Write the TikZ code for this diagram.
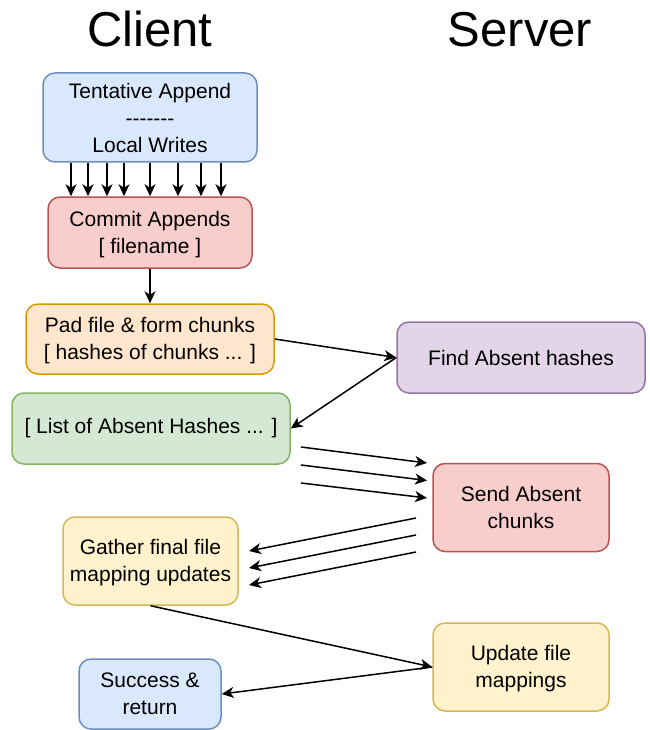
\documentclass[tikz,border=0pt]{standalone}
\usepackage{fontspec}
\setmainfont{Liberation Sans}
\usetikzlibrary{arrows.meta}
\definecolor{blueF}{HTML}{DAE8FC}\definecolor{blueD}{HTML}{6C8EBF}
\definecolor{redF}{HTML}{F8CECC}\definecolor{redD}{HTML}{B85450}
\definecolor{orangeF}{HTML}{FFE6CC}\definecolor{orangeD}{HTML}{D79B00}
\definecolor{purpleF}{HTML}{E1D5E7}\definecolor{purpleD}{HTML}{9673A6}
\definecolor{greenF}{HTML}{D5E8D4}\definecolor{greenD}{HTML}{82B366}
\definecolor{yellowF}{HTML}{FFF2CC}\definecolor{yellowD}{HTML}{D6B656}
\begin{document}
\begin{tikzpicture}[x=1pt,y=-1pt,
  box/.style={draw, rounded corners=12pt, line width=1.5pt, inner sep=0pt,
    align=center, font=\fontsize{21}{27}\selectfont},
  head/.style={anchor=base, font=\fontsize{49}{55}\selectfont},
  arr/.style={line width=1.5pt, -{Stealth[length=12pt,width=11pt,inset=3.5pt]}}]
\useasboundingbox (0,0) rectangle (649,730);

% column headings
\node[head] (client) at (150,47) {Client};
\node[head] (server) at (520,47) {Server};

% client side
\node[box, fill=blueF, draw=blueD, minimum width=214pt, minimum height=89pt]
  (tent) at (150,117.5) {Tentative Append\\-\kern0pt-\kern0pt-\kern0pt-\kern0pt-\kern0pt-\kern0pt-\\Local Writes};
\node[box, fill=redF, draw=redD, minimum width=204pt, minimum height=71pt]
  (commit) at (150,232.5) {\rule{0pt}{20pt}Commit Appends\\{[} filename ]};
\node[box, fill=orangeF, draw=orangeD, minimum width=248pt, minimum height=70pt]
  (pad) at (150,339) {\rule{0pt}{19pt}Pad file \& form chunks\\{[} hashes of chunks ... ]};
\node[box, fill=greenF, draw=greenD, minimum width=278pt, minimum height=71pt]
  (list) at (151,428.5) {[ List of Absent Hashes ... ]};
\node[box, fill=yellowF, draw=yellowD, minimum width=175pt, minimum height=88pt]
  (gather) at (150.5,561) {\rule{0pt}{19pt}Gather final file\\mapping updates};
\node[box, fill=blueF, draw=blueD, minimum width=142pt, minimum height=70pt]
  (success) at (150,694) {Success \&\\return};

% server side
\node[box, fill=purpleF, draw=purpleD, minimum width=248pt, minimum height=71pt]
  (find) at (521,357.5) {Find Absent hashes};
\node[box, fill=redF, draw=redD, minimum width=176pt, minimum height=88pt]
  (send) at (521,507.5) {Send Absent\\chunks};
\node[box, fill=yellowF, draw=yellowD, minimum width=176pt, minimum height=88pt]
  (update) at (521,667) {\rule{0pt}{19pt}Update file\\mappings};

% local writes into the commit
\foreach \xx in {71,88,107,124,150,178,201,221}
  \draw[arr] (tent.south -| \xx,0) -- (commit.north -| \xx,0);

\draw[arr] (commit.south) -- (pad.north);
\draw[arr] (pad.east) -- (find.west);
\draw[arr] (find.west) -- (list.east);

% chunks sent to the server
\coordinate (ls1) at (301,447); \coordinate (le1) at (427,463);
\coordinate (ls2) at (301,465); \coordinate (le2) at (427,480.5);
\coordinate (ls3) at (301,483); \coordinate (le3) at (427,498);
\foreach \i in {1,2,3} \draw[arr] (ls\i) -- (le\i);

% mapping updates back to the client
\coordinate (gs1) at (416,518); \coordinate (ge1) at (249,551);
\coordinate (gs2) at (416,535); \coordinate (ge2) at (249,568);
\coordinate (gs3) at (416,552); \coordinate (ge3) at (249,585);
\foreach \i in {1,2,3} \draw[arr] (gs\i) -- (ge\i);

\draw[arr] (gather.south) -- (update.west);
\draw[arr] (update.west) -- (success.east);
\end{tikzpicture}
\end{document}
